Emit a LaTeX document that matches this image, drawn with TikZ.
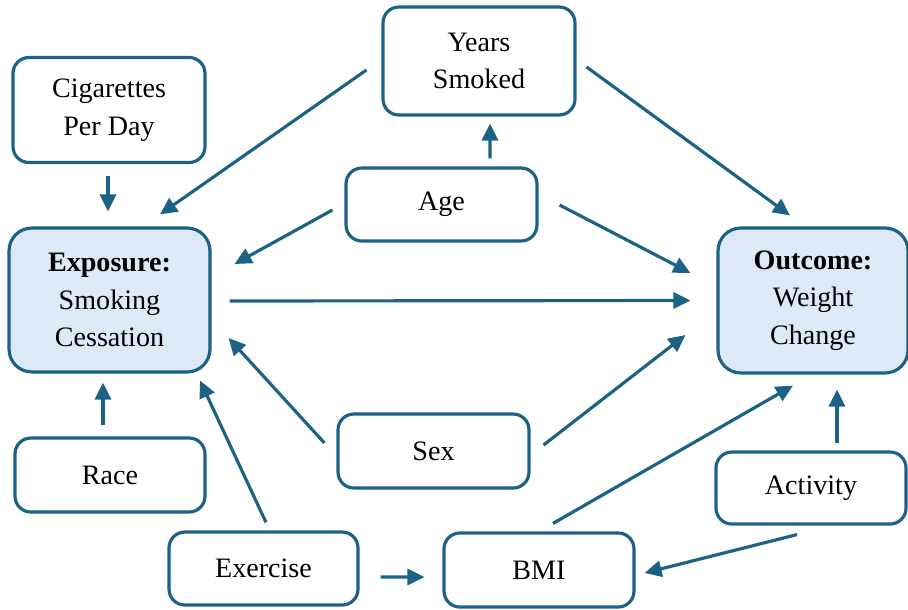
\documentclass[tikz,border=0pt]{standalone}
\usepackage{fontspec}
\setmainfont{Liberation Serif}
\usetikzlibrary{arrows.meta}
\definecolor{dagblue}{RGB}{27,98,133}
\definecolor{dagfill}{RGB}{221,233,246}

\begin{document}
\begin{tikzpicture}[x=0.02cm, y=-0.02cm,
    var/.style={draw=dagblue, line width=1.8pt, rounded corners=9pt, align=center,
      inner sep=0pt, font=\fontsize{16}{21.5}\selectfont},
    key/.style={var, fill=dagfill, rounded corners=13pt},
    link/.style={dagblue, line width=1.8pt, -{Triangle[length=0.34cm, width=0.32cm]}}]
  \useasboundingbox (0,0) rectangle (908,609);

  % variables
  \node[var, minimum width=3.84cm, minimum height=2.16cm] (years) at (479,61) {Years\\Smoked};
  \node[var, minimum width=3.84cm, minimum height=2.1cm] (cigs) at (109,110) {Cigarettes\\Per Day};
  \node[var, minimum width=3.82cm, minimum height=1.46cm] (age) at (441.5,204.5) {Age};
  \node[key, minimum width=4.02cm, minimum height=2.88cm] (exposure) at (109.5,300)
    {\textbf{Exposure:}\\Smoking\\Cessation};
  \node[key, minimum width=3.8cm, minimum height=2.9cm] (outcome) at (813,300.5)
    {\textbf{Outcome:}\\Weight\\Change};
  \node[var, minimum width=3.8cm, minimum height=1.48cm] (race) at (110,475) {Race};
  \node[var, minimum width=3.82cm, minimum height=1.48cm] (sex) at (433.5,451) {Sex};
  \node[var, minimum width=3.8cm, minimum height=1.44cm] (activity) at (811,488) {Activity};
  \node[var, minimum width=3.78cm, minimum height=1.46cm] (exercise) at (263.5,568.5) {Exercise};
  \node[var, minimum width=3.8cm, minimum height=1.48cm] (bmi) at (539,570) {BMI};

  % arrows
  \draw[link] ([shift={(-1,11.5)}]cigs.south) -- ([shift={(-1.5,-15)}]exposure.north);
  \draw[link] ([shift={(-7,-11)}]race.north) -- ([shift={(-6.5,9)}]exposure.south);
  \draw[link] ([shift={(-15,9)}]years.west) -- ([shift={(50.5,-12)}]exposure.north);
  \draw[link] ([shift={(10,6)}]years.east) -- ([shift={(-23,-11)}]outcome.north);
  \draw[link] ([shift={(48.5,-8)}]age.north) -- ([shift={(11,7)}]years.south);
  \draw[link] ([shift={(-12,5.5)}]age.west) -- ([shift={(23,-36)}]exposure.east);
  \draw[link] ([shift={(21,0.5)}]age.east) -- ([shift={(-26,-27.5)}]outcome.west);
  \draw[link] ([shift={(18,1)}]exposure.east) -- ([shift={(-26,0)}]outcome.west);
  \draw[link] ([shift={(-12,-8)}]sex.west) -- ([shift={(17,38)}]exposure.east);
  \draw[link] ([shift={(13,-6)}]sex.east) -- ([shift={(-31,34.5)}]outcome.west);
  \draw[link] ([shift={(2.5,-8)}]exercise.north) -- ([shift={(90.5,7)}]exposure.south);
  \draw[link] ([shift={(21,8.5)}]exercise.east) -- ([shift={(-18,7)}]bmi.west);
  \draw[link] ([shift={(14,-8)}]bmi.north) -- ([shift={(-20,11)}]outcome.south);
  \draw[link] ([shift={(-14,9)}]activity.south) -- ([shift={(9,3)}]bmi.east);
  \draw[link] ([shift={(26,-7)}]activity.north) -- ([shift={(24,15)}]outcome.south);
\end{tikzpicture}
\end{document}
